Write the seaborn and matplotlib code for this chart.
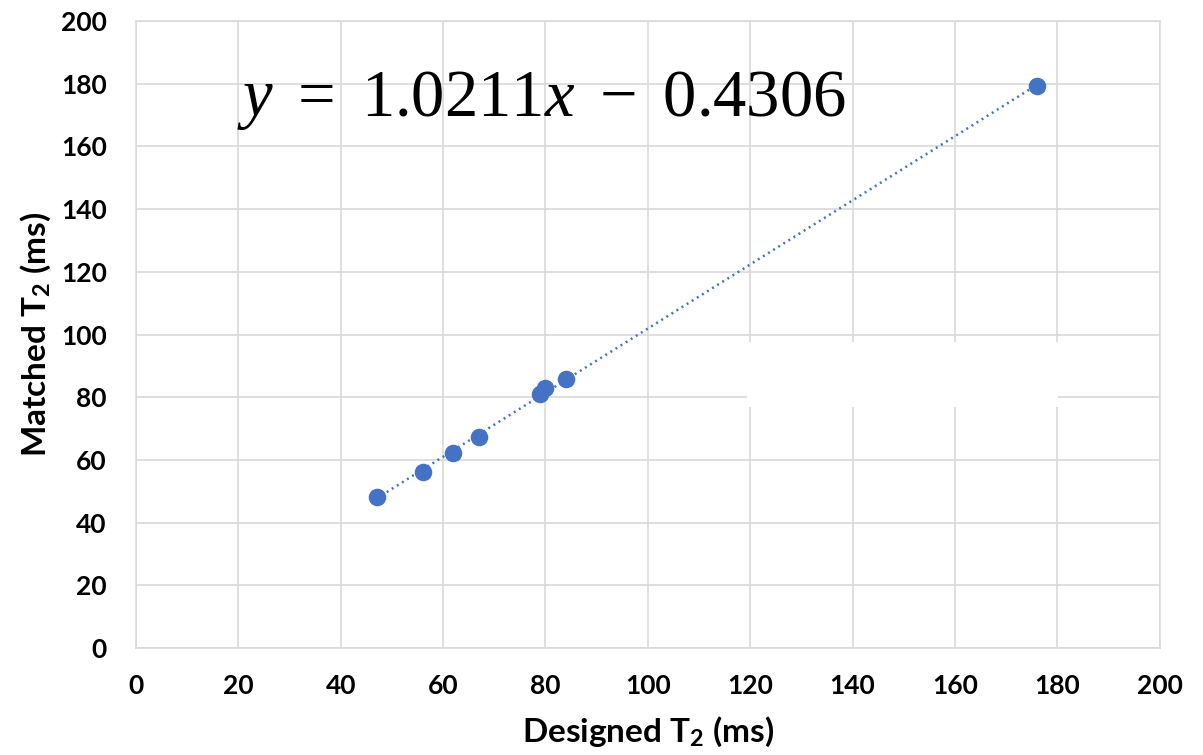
import numpy as np
import pandas as pd
import seaborn as sns
import matplotlib.pyplot as plt
from matplotlib.patches import Rectangle

# values
designed = [47, 56, 62, 67, 79, 80, 84, 176]
matched = [48.2, 56.1, 62.2, 67.3, 81.0, 82.9, 85.8, 179.3]
ticks = list(range(0, 201, 20))
equation = r"$y\ =\ 1.0211x\ -\ 0.4306$"

df = pd.DataFrame({"designed": designed, "matched": matched})

sns.set_style("white")
plt.rcParams['font.family'] = ['Lato', 'DejaVu Sans']
plt.rcParams['mathtext.fontset'] = 'custom'
plt.rcParams['mathtext.rm'] = 'Liberation Serif'
plt.rcParams['mathtext.it'] = 'Liberation Serif:italic'
plt.rcParams['mathtext.bf'] = 'Lato:bold'
plt.rcParams['text.color'] = 'black'
plt.rcParams['axes.labelcolor'] = 'black'
plt.rcParams['xtick.color'] = 'black'
plt.rcParams['ytick.color'] = 'black'

blue = '#4472C4'
grid = '#d9d9d9'

fig = plt.figure(figsize=(12.03, 7.55), dpi=100)
ax = fig.add_axes([0.113, 0.1417, 0.851, 0.8305])

sns.regplot(data=df, x="designed", y="matched", ax=ax, ci=None,
            scatter_kws={"s": 160, "color": blue, "alpha": 1, "linewidths": 0, "zorder": 3},
            line_kws={"color": blue, "lw": 1.8, "linestyle": (0, (0.8, 1.6)), "zorder": 2})

ax.set_xlim(0, 200)
ax.set_ylim(0, 200)
ax.set_xticks(ticks)
ax.set_yticks(ticks)
ax.grid(True, color=grid, lw=1.2, zorder=0)
ax.set_axisbelow(True)
for s in ax.spines.values():
    s.set_color(grid)
    s.set_linewidth(1.2)
ax.tick_params(length=0, labelsize=19, colors='black')
ax.tick_params(axis='x', pad=19)
ax.tick_params(axis='y', pad=21)
for lab in ax.get_xticklabels() + ax.get_yticklabels():
    lab.set_fontweight('bold')

ax.set_xlabel(r"Designed T$_\mathbf{2}$ (ms)", fontsize=24, fontweight='bold', labelpad=12)
ax.set_ylabel(r"Matched T$_\mathbf{2}$ (ms)", fontsize=24, fontweight='bold', labelpad=6)

# blank box where a label was removed
ax.add_patch(Rectangle((119.3, 76.9), 60.8, 20.7, facecolor='white',
                       edgecolor='none', zorder=1))

ax.text(19.7, 174.5, equation, fontsize=48, va='center', ha='left',
        color='black', zorder=4)

fig.savefig("out.png", dpi=100)
